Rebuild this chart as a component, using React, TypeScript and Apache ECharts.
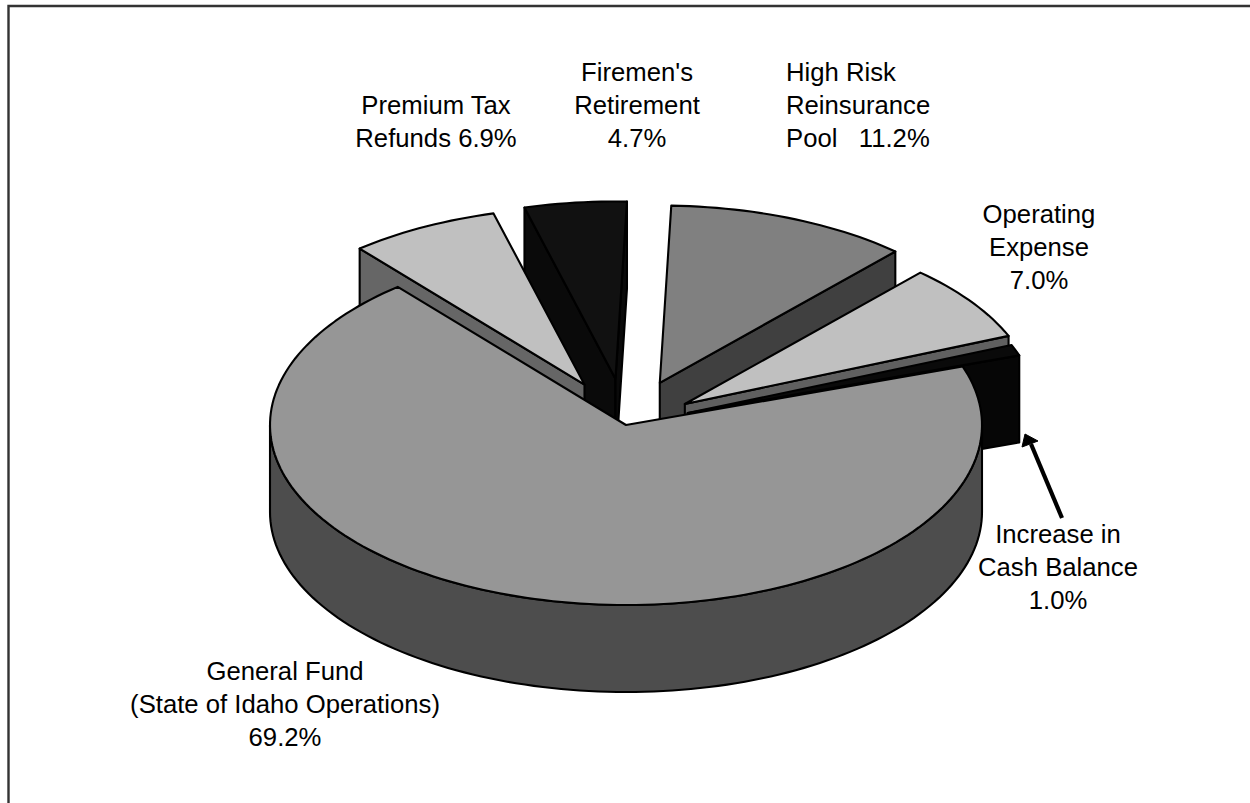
import React, { useEffect, useRef } from "react";
import * as echarts from "echarts";

// clockwise round the pie, starting at the General Fund
const names = ["General Fund", "Premium Tax Refunds", "Firemen's Retirement", "High Risk Reinsurance Pool", "Operating Expense", "Increase in Cash Balance"];
const values = [69.2, 6.9, 4.7, 11.2, 7.0, 1.0];
// outward shift of each slice, in pixels along the pie's plane
const explode = [0, 90, 92, 90, 72, 66];
// the pulled-out slices are drawn slightly smaller than the big one
const rimScale = [1, 0.985, 0.985, 0.985, 0.985, 0.985];
const topColors = ["#969696", "#c0c0c0", "#111111", "#808080", "#c0c0c0", "#0a0a0a"];
const sideColors = ["#4d4d4d", "#666666", "#0a0a0a", "#404040", "#606060", "#060606"];
// painter's order: back slices first, General Fund last
const drawOrder = [2, 1, 3, 4, 5, 0];

const labelTexts = [
  "General Fund\n(State of Idaho Operations)\n69.2%",
  "Premium Tax\nRefunds 6.9%",
  "Firemen's\nRetirement\n4.7%",
  "High Risk\nReinsurance\nPool   11.2%",
  "Operating\nExpense\n7.0%",
  "Increase in\nCash Balance\n1.0%",
];
const labelX = [285, 436, 637, 786, 1039, 1058];
const labelY = [654, 88, 55, 55, 197, 517];
const labelAlign = ["center", "center", "center", "left", "center", "center"];

const CX = 626, CY = 425, RX = 356, RY = 180, DEPTH = 87, START_DEG = 71;
const total = values.reduce((a, b) => a + b, 0);

function pointAt(ox: number, oy: number, deg: number, s: number) {
  const t = (deg * Math.PI) / 180;
  return [ox + s * RX * Math.sin(t), oy - s * RY * Math.cos(t)];
}
function arc(ox: number, oy: number, a: number, b: number, s: number) {
  const pts: number[][] = [];
  const n = Math.max(2, Math.ceil(Math.abs(b - a) / 1.5));
  for (let i = 0; i <= n; i++) pts.push(pointAt(ox, oy, a + ((b - a) * i) / n, s));
  return pts;
}
const down = (pts: number[][]) => pts.map((p) => [p[0], p[1] + DEPTH]);

function sliceRange(idx: number) {
  let a = START_DEG;
  for (let i = 0; i < idx; i++) a += (values[i] / total) * 360;
  return [a, a + (values[idx] / total) * 360];
}

function renderSlice(_: any, api: any) {
  const idx = api.value(0);
  const s = rimScale[idx];
  const [a, b] = sliceRange(idx);
  const mid = ((a + b) / 2) * (Math.PI / 180);
  const ox = CX + explode[idx] * Math.sin(mid);
  const oy = CY - explode[idx] * Math.cos(mid) * (RY / RX);
  const apex = [ox, oy];
  const line = { stroke: "#000", lineWidth: 2.1, lineJoin: "round" };
  const children: any[] = [];
  const face = (pts: number[][], fill: string) =>
    children.push({ type: "polygon", shape: { points: pts }, style: { ...line, fill } });
  const edgeFace = (deg: number) => {
    const r = pointAt(ox, oy, deg, s);
    face([apex, r, [r[0], r[1] + DEPTH], [ox, oy + DEPTH]], sideColors[idx]);
  };
  const sinOf = (d: number) => Math.sin((d * Math.PI) / 180);
  if (sinOf(a) < 0) edgeFace(a);
  if (sinOf(b) > 0) edgeFace(b);
  // the outer wall is visible only on the front half of the rim (90..270 degrees)
  for (const k of [-360, 0, 360]) {
    const lo = Math.max(a, 90 + k);
    const hi = Math.min(b, 270 + k);
    if (hi > lo) {
      const rim = arc(ox, oy, lo, hi, s);
      face([...rim, ...down(rim).reverse()], sideColors[idx]);
    }
  }
  face([apex, ...arc(ox, oy, a, b, s)], topColors[idx]);
  return { type: "group", children };
}

export default function App() {
  const ref = useRef<HTMLDivElement>(null);
  useEffect(() => {
    const chart = echarts.init(ref.current!, null, { renderer: "svg" });
    chart.setOption({
      animation: false,
      backgroundColor: "#fff",
      series: [
        {
          type: "custom",
          coordinateSystem: "none",
          silent: true,
          renderItem: renderSlice,
          data: drawOrder.map((i) => ({ name: names[i], value: [i, values[i]] })),
        },
      ],
      graphic: [
        {
          type: "polyline",
          z: 10,
          shape: { points: [[8.5, 803], [8.5, 6], [1250, 6]] },
          style: { stroke: "#333", lineWidth: 2.4, fill: "none" },
        },
        {
          type: "line",
          z: 10,
          shape: { x1: 1062, y1: 518, x2: 1031, y2: 444 },
          style: { stroke: "#000", lineWidth: 4.2 },
        },
        {
          type: "polygon",
          z: 10,
          shape: { points: [[1025, 434], [1022, 447], [1038, 441]] },
          style: { fill: "#000", stroke: "#000", lineWidth: 1 },
        },
        ...labelTexts.map((t, i) => ({
          type: "text",
          z: 10,
          x: labelX[i],
          y: labelY[i],
          style: {
            text: t,
            fill: "#000",
            fontSize: 25.7,
            fontFamily: '"Liberation Sans", Arial, sans-serif',
            align: labelAlign[i],
            lineHeight: 33,
          },
        })),
      ],
    });
    return () => chart.dispose();
  }, []);
  return <div ref={ref} style={{ position: "fixed", left: 0, top: 0, width: 1250, height: 803 }} />;
}
